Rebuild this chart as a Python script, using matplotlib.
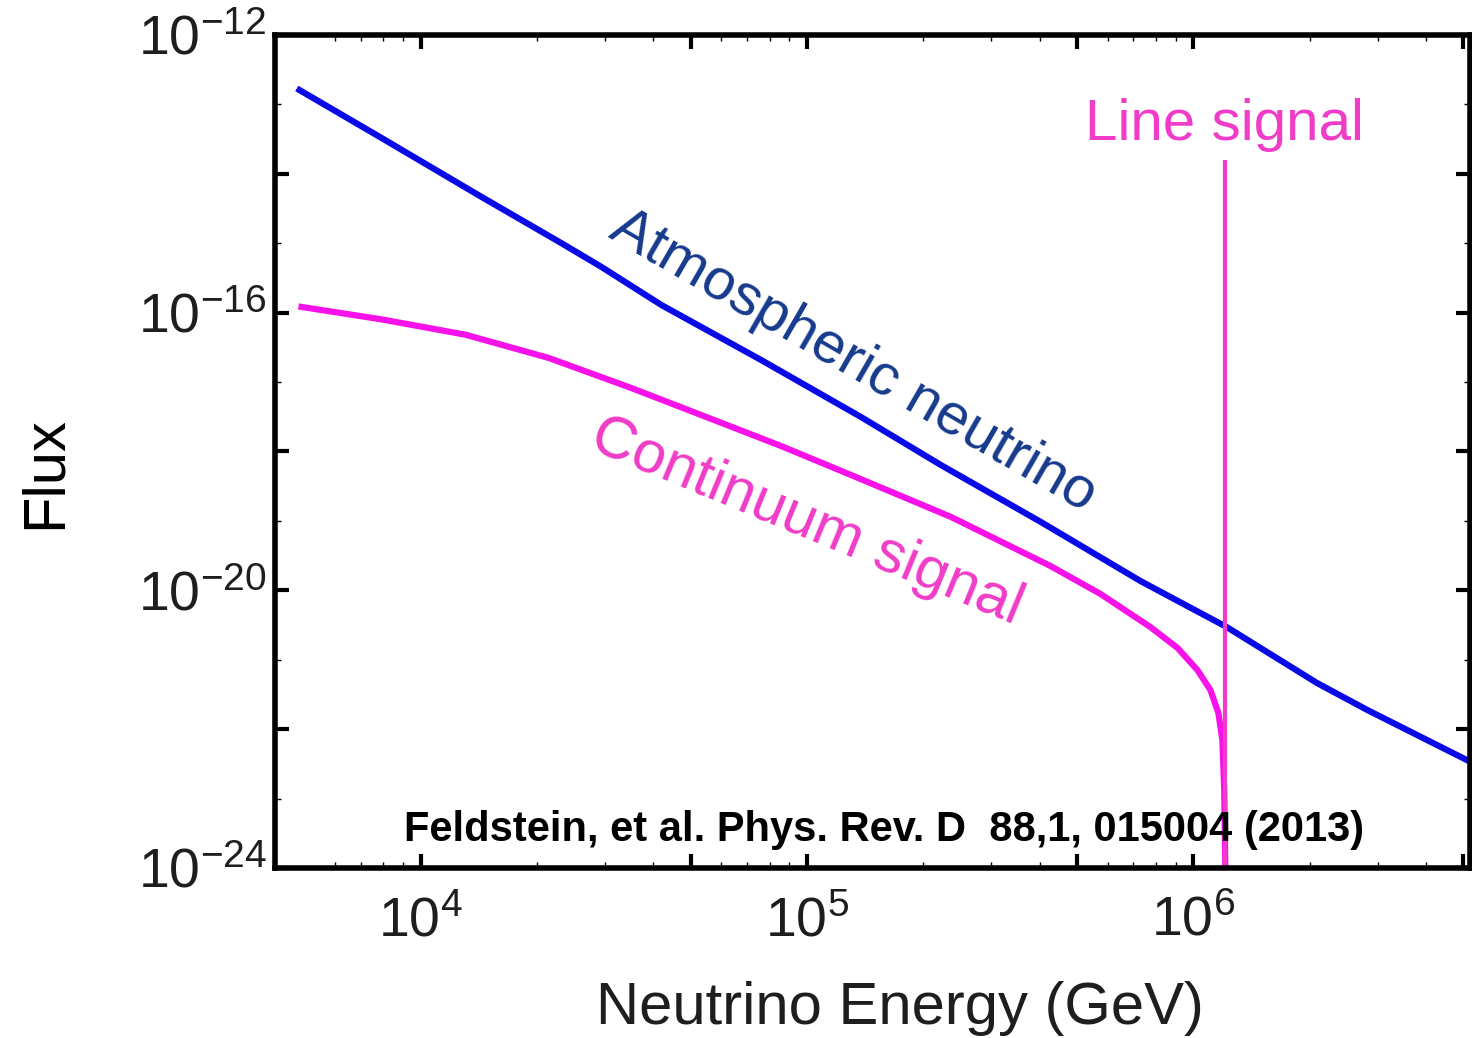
import matplotlib
matplotlib.use('Agg')
import matplotlib.pyplot as plt
from matplotlib.ticker import FixedLocator, NullFormatter, FuncFormatter

plt.rcParams['font.family'] = ['Liberation Sans', 'DejaVu Sans']
plt.rcParams['mathtext.fontset'] = 'custom'
plt.rcParams['mathtext.rm'] = 'Liberation Sans'
plt.rcParams['mathtext.it'] = 'Liberation Sans'

# atmospheric neutrino flux
atm_energy = [4.86e3, 7.93e3, 1.44e4, 2.31e4, 2.94e4, 4.20e4, 7.61e4, 1.38e5,
              2.22e5, 4.03e5, 7.30e5, 1.22e6, 2.09e6, 2.82e6, 4.17e6, 5.1e6]
atm_flux = [1.61e-13, 3.28e-14, 4.63e-15, 1.01e-15, 4.55e-16, 1.29e-16, 2.08e-17, 3.14e-18,
            6.40e-19, 9.66e-20, 1.36e-20, 2.96e-21, 4.62e-22, 1.89e-22, 6.32e-23, 3.6e-23]

# continuum signal
cont_energy = [4.92e3, 7.93e3, 1.31e4, 2.15e4, 3.51e4, 5.75e4, 8.57e4, 1.30e5, 2.36e5,
               4.27e5, 5.75e5, 7.74e5, 9.10e5, 1.024e6, 1.107e6, 1.161e6, 1.189e6,
               1.202e6, 1.21e6]
cont_flux = [1.21e-16, 8.0e-17, 4.8e-17, 2.22e-17, 8.22e-18, 2.84e-18, 1.20e-18, 4.59e-19,
             1.14e-19, 2.24e-20, 8.87e-21, 2.96e-21, 1.48e-21, 7.13e-22, 3.67e-22, 1.71e-22,
             6.98e-23, 1.33e-23, 1.0e-24]

# line signal
line_energy = 1.21e6
line_flux_top = 1.6e-14

x_ticks_major = [1e4, 5e4, 1e5, 5e5, 1e6, 5e6]
x_tick_labels = {1e4: r'$10^{4}$', 1e5: r'$10^{5}$', 1e6: r'$10^{6}$'}
y_ticks_major = [1e-24, 1e-22, 1e-20, 1e-18, 1e-16, 1e-14, 1e-12]
y_tick_labels = {1e-24: r'$10^{-24}$', 1e-20: r'$10^{-20}$', 1e-16: r'$10^{-16}$', 1e-12: r'$10^{-12}$'}

BLUE = '#0a0ae6'
NAVY = '#163a8c'
MAGENTA = '#f612e8'
PINK = '#f03cc8'


def pick_label(labels):
    return lambda v, p: next((s for k, s in labels.items() if abs(v / k - 1) < 1e-6), '')


fig = plt.figure(figsize=(14.72, 10.38), dpi=100)
ax = fig.add_axes([275 / 1472, 170 / 1038, 1195 / 1472, 833 / 1038])

ax.plot(atm_energy, atm_flux, color=BLUE, lw=4.5, solid_joinstyle='round')
ax.plot(cont_energy, cont_flux, color=MAGENTA, lw=4.5, solid_joinstyle='round')
ax.plot([line_energy, line_energy], [1e-25, line_flux_top], color=PINK, lw=3.0, solid_capstyle='butt')

ax.set_xscale('log')
ax.set_yscale('log')
ax.set_xlim(4.2e3, 5.2e6)
ax.set_ylim(1e-24, 1e-12)

ax.xaxis.set_major_locator(FixedLocator(x_ticks_major))
ax.xaxis.set_major_formatter(FuncFormatter(pick_label(x_tick_labels)))
x_minor = [m * 10 ** d for d in range(3, 7) for m in (2, 3, 4, 6, 7, 8, 9)]
ax.xaxis.set_minor_locator(FixedLocator(x_minor))
ax.xaxis.set_minor_formatter(NullFormatter())

ax.yaxis.set_major_locator(FixedLocator(y_ticks_major))
ax.yaxis.set_major_formatter(FuncFormatter(pick_label(y_tick_labels)))
y_minor = [10.0 ** d for d in range(-23, -12, 2)]
ax.yaxis.set_minor_locator(FixedLocator(y_minor))
ax.yaxis.set_minor_formatter(NullFormatter())

for s in ax.spines.values():
    s.set_linewidth(4)
ax.tick_params(which='major', direction='in', length=10, width=3, top=True, right=True,
               labelsize=40, colors='black', labelcolor='#1e1e1e')
ax.tick_params(which='minor', direction='in', length=4, width=1, top=True, right=True)
ax.tick_params(axis='x', which='major', pad=20)
ax.tick_params(axis='y', which='major', pad=6)

ax.text(1.20e6, 5.1e-14, 'Line signal', color=PINK, fontsize=42, ha='center', va='center')
ax.text(1.32e5, 1.95e-17, 'Atmospheric neutrino', color=NAVY, fontsize=42, ha='center', va='center',
        rotation=-30, rotation_mode='anchor')
ax.text(1.0e5, 9.7e-20, 'Continuum signal', color=PINK, fontsize=43, ha='center', va='center',
        rotation=-22.5, rotation_mode='anchor')
ax.text(0.5096, 0.0456, 'Feldstein, et al. Phys. Rev. D  88,1, 015004 (2013)', transform=ax.transAxes,
        fontsize=30, fontweight='bold', color='black', ha='center', va='center')

fig.text(900 / 1472, 1 - 1008 / 1038, 'Neutrino Energy (GeV)', fontsize=43, color='#1e1e1e',
         ha='center', va='center')
fig.text(45 / 1472, 1 - 473 / 1038, 'Flux', fontsize=43, color='black', rotation=90,
         ha='center', va='center')

fig.savefig('out.png', dpi=100)
plt.close(fig)
